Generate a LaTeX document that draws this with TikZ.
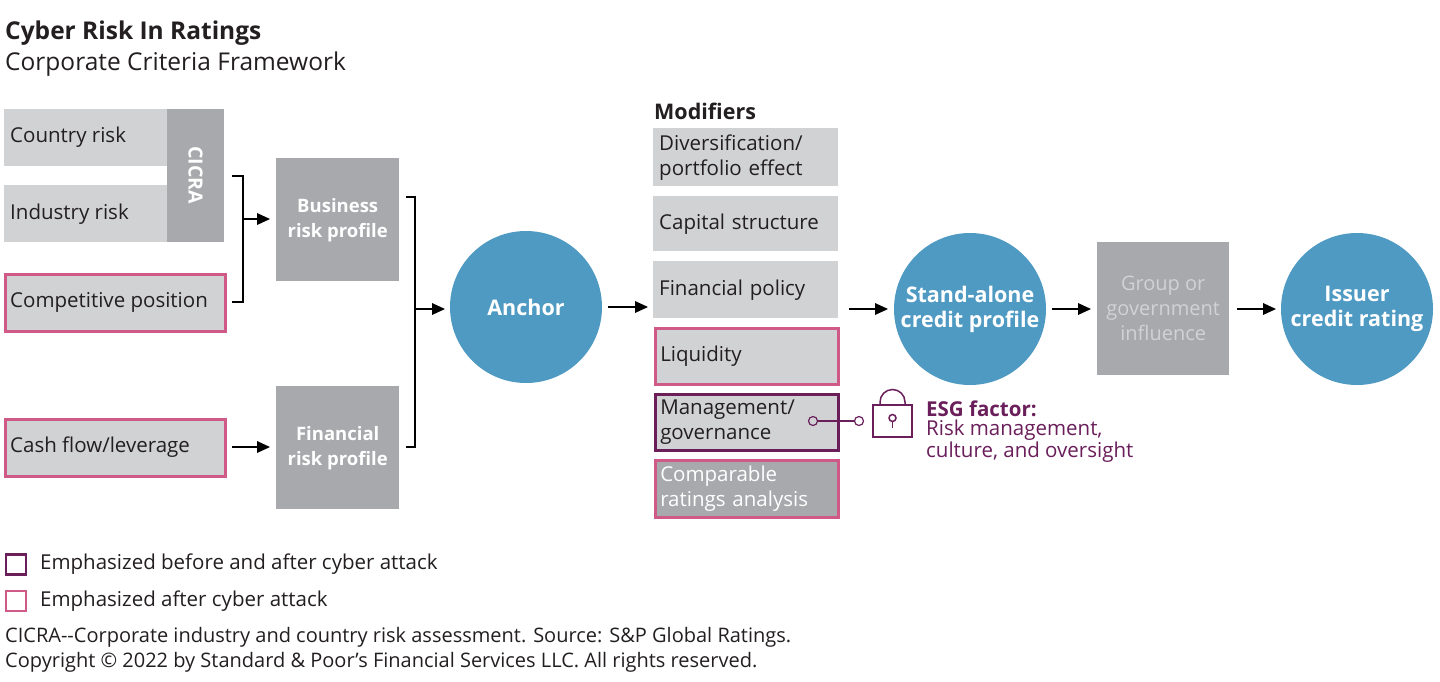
\documentclass[tikz,border=0pt]{standalone}
\usepackage{fontspec}
\setmainfont{Open Sans}
\begin{document}
\definecolor{lg}{HTML}{D1D2D4}
\definecolor{dg}{HTML}{A7A9AC}
\definecolor{bl}{HTML}{4F9AC3}
\definecolor{pk}{HTML}{CF5A87}
\definecolor{pu}{HTML}{6A1E5A}
\definecolor{tx}{HTML}{231F20}
\newcommand{\mytip}[1]{\fill[black] (#1) -- ++(-13,-6) -- ++(0,12) -- cycle;}
\begin{tikzpicture}[x=1pt,y=-1pt,
  lbox/.style={fill=lg,draw=none,anchor=north west,inner sep=0pt,text=tx,font=\fontsize{20.5}{25}\selectfont,align=left,text width=#1},
  dbox/.style={fill=dg,anchor=north west,inner sep=0pt,text=white,font=\bfseries\fontsize{18.5}{25}\selectfont,align=center},
  circ/.style={circle,fill=bl,minimum size=152pt,inner sep=0pt,text=white,font=\bfseries\fontsize{21.5}{25}\selectfont,align=center},
  arr/.style={line width=1.4pt,shorten >=6pt},
  brk/.style={line width=1.2pt},
  pkb/.style={draw=pk,line width=2.5pt},
  pub/.style={draw=pu,line width=2.5pt},
  t/.style={anchor=west,inner sep=0pt,text=tx,font=\fontsize{20.5}{25}\selectfont}]
\useasboundingbox (0,0) rectangle (1440,681);
\fill[white] (0,0) rectangle (1440,681);
\node[anchor=west,inner sep=0pt,font=\bfseries\fontsize{24.5}{28}\selectfont,text=tx] (title) at (5,33) {Cyber Risk In Ratings};
\node[anchor=west,inner sep=0pt,font=\fontsize{24.5}{28}\selectfont,text=tx] (sub) at (5,64) {Corporate Criteria Framework};
% left inputs
\fill[lg] (4,109) rectangle (167,166);
\fill[lg] (4,185) rectangle (167,242);
\node[t] (cr) at (10,137) {Country risk};
\node[t] (ir) at (10,214) {Industry risk};
\node[dbox,minimum width=57pt,minimum height=133pt] (cicra) at (167,109) {};
\node[rotate=-90,text=white,font=\bfseries\fontsize{19.5}{22}\selectfont] (cicral) at (195.5,175) {CICRA};
\node[lbox=0pt,pkb,minimum width=220pt,minimum height=57pt] (cp) at (4,273) {};
\node[t] (cpl) at (10,302) {Competitive position};
\node[lbox=0pt,pkb,minimum width=220pt,minimum height=57pt] (cf) at (4,418) {};
\node[t] (cfl) at (10,447) {Cash flow/leverage};
% profiles
\node[dbox,minimum width=123pt,minimum height=123pt] (brp) at (276,158) {Business\\risk profile};
\node[dbox,minimum width=123pt,minimum height=123pt] (frp) at (276,386) {Financial\\risk profile};
\coordinate (b1) at (243,219);
\draw[brk] (232,176) -| (243,302) -- (232,302);
\coordinate (t1) at (270,219);
\draw[arr] (b1) -- (t1); \mytip{t1}
\coordinate (cfo) at (232,447);
\coordinate (t2) at (270,447);
\draw[arr] (cfo) -- (t2); \mytip{t2}
\draw[brk] (406,197) -| (415,447) -- (406,447);
\coordinate (b2) at (415,309);
% circles
\node[circ] (anc) at (526,307) {Anchor};
\coordinate (t3) at (445,309);
\draw[arr] (b2) -- (t3); \mytip{t3}
\node[circ] (sa) at (970,309) {Stand-alone\\credit profile};
\node[circ] (isr) at (1357,309) {Issuer\\credit rating};
% modifiers
\node[anchor=west,inner sep=0pt,font=\bfseries\fontsize{21.5}{25}\selectfont,text=tx] (modl) at (654,111) {Modifiers};
\node[lbox=175pt,minimum width=185pt,minimum height=58pt,inner xsep=6pt,text width=173pt] (m1) at (653,128) {Diversification/\\portfolio effect};
\node[lbox=175pt,minimum width=185pt,minimum height=55pt,inner xsep=6pt,text width=173pt] (m2) at (653,196) {Capital structure};
\node[lbox=175pt,minimum width=185pt,minimum height=57pt,inner xsep=6pt,text width=173pt] (m3) at (653,261) {Financial policy};
\node[lbox=175pt,pkb,minimum width=183pt,minimum height=56pt,inner xsep=5pt,text width=173pt] (m4) at (654,327) {Liquidity};
\node[lbox=175pt,pub,minimum width=183pt,minimum height=56pt,inner xsep=5pt,text width=173pt] (m5) at (654,393) {Management/\\governance};
\node[lbox=175pt,pkb,fill=dg,text=white,minimum width=183pt,minimum height=57pt,inner xsep=5pt,text width=173pt] (m6) at (654,459) {Comparable\\ratings analysis};
\coordinate (a1) at (608,307);
\coordinate (a2) at (648,307);
\draw[arr] (a1) -- (a2); \mytip{a2}
\coordinate (a3) at (849,309);
\coordinate (t4) at (888,309);
\draw[arr] (a3) -- (t4); \mytip{t4}
% group
\node[dbox,minimum width=132pt,minimum height=133pt,font=\fontsize{20}{25}\selectfont,text=lg] (grp) at (1097,242) {Group or\\government\\influence};
\coordinate (a4) at (1052,309);
\coordinate (t5) at (1091,309);
\draw[arr] (a4) -- (t5); \mytip{t5}
\coordinate (a5) at (1237,309);
\coordinate (t6) at (1276,309);
\draw[arr] (a5) -- (t6); \mytip{t6}
% ESG
\node[circle,draw=pu,fill=lg,line width=1.2pt,minimum size=9pt,inner sep=0pt] (e1) at (813,421) {};
\node[circle,draw=pu,fill=white,line width=1.2pt,minimum size=9pt,inner sep=0pt] (e2) at (859,421) {};
\draw[pu,line width=1.2pt] (e1) -- (e2);
\draw[pu,line width=1.5pt] (873,405) rectangle (912,437);
\draw[pu,line width=1.5pt] (880,405) -- (880,402) arc[start angle=180,end angle=360,radius=12.5] -- (905,405);
\draw[pu,line width=1.5pt] (892.5,418) circle (3.5);
\draw[pu,line width=1.5pt] (892.5,421.5) -- (892.5,428);
\node[anchor=west,inner sep=0pt,font=\bfseries\fontsize{20.5}{24}\selectfont,text=pu] (esg) at (926,409) {ESG factor:};
\node[anchor=north west,inner sep=0pt,align=left,font=\fontsize{20.5}{21.5}\selectfont,text=pu] (esgt) at (926,420) {Risk management,\\culture, and oversight};
% legend
\node[draw=pu,line width=2.5pt,minimum size=20pt,inner sep=0pt] (lg1) at (16,564.5) {};
\node[t] at (40,564) {Emphasized before and after cyber attack};
\node[draw=pk,line width=2.5pt,minimum size=20pt,inner sep=0pt] (lg2) at (16,601) {};
\node[t] at (40,601) {Emphasized after cyber attack};
\node[anchor=west,inner sep=0pt,font=\fontsize{20}{22}\selectfont,text=tx] at (5,637) {CICRA-{}-Corporate industry and country risk assessment. Source: S\&P Global Ratings.};
\node[anchor=west,inner sep=0pt,font=\fontsize{20}{22}\selectfont,text=tx] at (5,662) {Copyright © 2022 by Standard \& Poor’s Financial Services LLC. All rights reserved.};
\end{tikzpicture}
\end{document}
